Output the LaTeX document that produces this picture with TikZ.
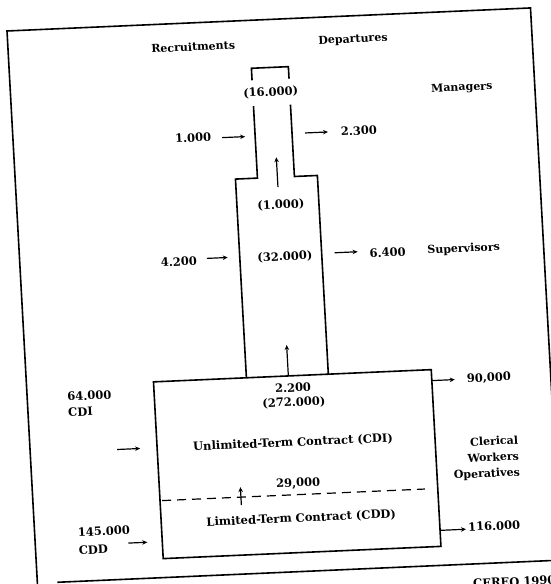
\documentclass[tikz,border=0pt]{standalone}
\usepackage{fontspec}
\setmainfont{DejaVu Serif}
\usetikzlibrary{arrows.meta}
\begin{document}
\begin{tikzpicture}[
  num/.style={font=\bfseries\fontsize{11.5}{16}\selectfont, inner sep=0pt, transform shape},
  head/.style={font=\bfseries\fontsize{11}{13}\selectfont, inner sep=0pt, transform shape},
  arr/.style={line width=1.2pt, -{Stealth[length=5pt,width=4.5pt]}},
  edgeline/.style={line width=1.6pt},
]
\useasboundingbox (0,0) rectangle (550pt,584pt);
\begin{scope}[x=1pt,y=1pt,cm={0.99903,0.04398,-0.05495,0.99849,(7pt,553pt)}]
  % outer frame and rule
  \draw[edgeline] (0,-640) -- (0,0) -- (524,0) -- (524,-640);
  \draw[edgeline] (20,-553) -- (600,-553);
  % pyramid shape
  \draw[edgeline] (242,-60) -- (242,-48) -- (279,-48) -- (279,-60);
  \draw[edgeline] (242,-86) -- (242,-158) -- (220,-158) -- (220,-357);
  \draw[edgeline] (279,-86) -- (279,-158) -- (302,-158) -- (302,-357);
  \draw[edgeline] (127,-357) rectangle (405,-534);
  \draw[line width=1.2pt, dash pattern=on 9pt off 6pt] (129,-476) -- (392,-476);
  % headings
  \node[head] (rec) at (185,-24) {Recruitments};
  \node[head] (dep) at (345,-24) {Departures};
  \node[head] (man) at (451,-77) {Managers};
  \node[head] (sup) at (444,-238) {Supervisors};
  \node[head, align=right, anchor=east, font=\bfseries\fontsize{11}{16}\selectfont] (cwo) at (488,-448) {Clerical\\Workers\\Operatives};
  % numbers
  \node[num] (n16) at (260,-73) {(16.000)};
  \node[num] (in1) at (180,-115) {1.000};
  \node[num] (out1) at (346,-115) {2.300};
  \node[num] (p1) at (264,-186) {(1.000)};
  \node[num] (in2) at (159,-238) {4.200};
  \node[num] (n32) at (265,-238) {(32.000)};
  \node[num] (out2) at (368,-238) {6.400};
  \node[num] (p2) at (266,-369) {2.200};
  \node[num] (n272) at (266,-384) {(272.000)};
  \node[num] (unl) at (263,-424) {Unlimited-Term Contract (CDI)};
  \node[num] (p3) at (266,-465) {29,000};
  \node[num] (lim) at (267,-500) {Limited-Term Contract (CDD)};
  \node[num, anchor=west] (in3) at (40,-368) {64.000};
  \node[num, anchor=west] (in3b) at (40,-384) {CDI};
  \node[num, anchor=west] (in4) at (43,-504) {145.000};
  \node[num, anchor=west] (in4b) at (43,-522) {CDD};
  \node[num, anchor=west] (out3) at (440,-368) {90,000};
  \node[num, anchor=west] (out4) at (433,-516) {116.000};
  \node[num, anchor=north west] (src) at (435,-568) {CEREQ 1990};
  % arrow end points
  \coordinate (a1s) at (209,-116); \coordinate (a1e) at (232,-116);
  \coordinate (a2s) at (292,-115); \coordinate (a2e) at (315,-115);
  \coordinate (a3s) at (262,-168); \coordinate (a3e) at (262,-138);
  \coordinate (a4s) at (187,-236); \coordinate (a4e) at (208,-236);
  \coordinate (a5s) at (315,-236); \coordinate (a5e) at (338,-236);
  \coordinate (a6s) at (262,-357); \coordinate (a6e) at (262,-326);
  \coordinate (a7s) at (87,-423);  \coordinate (a7e) at (110,-423);
  \coordinate (a8s) at (93,-517);  \coordinate (a8e) at (112,-517);
  \coordinate (a9s) at (405,-368); \coordinate (a9e) at (428,-368);
  \coordinate (a10s) at (405,-518); \coordinate (a10e) at (431,-518);
  \coordinate (a11s) at (208,-484); \coordinate (a11e) at (208,-466);
  \foreach \k in {1,...,11} {\draw[arr] (a\k s) -- (a\k e);}
\end{scope}
\end{tikzpicture}
\end{document}
